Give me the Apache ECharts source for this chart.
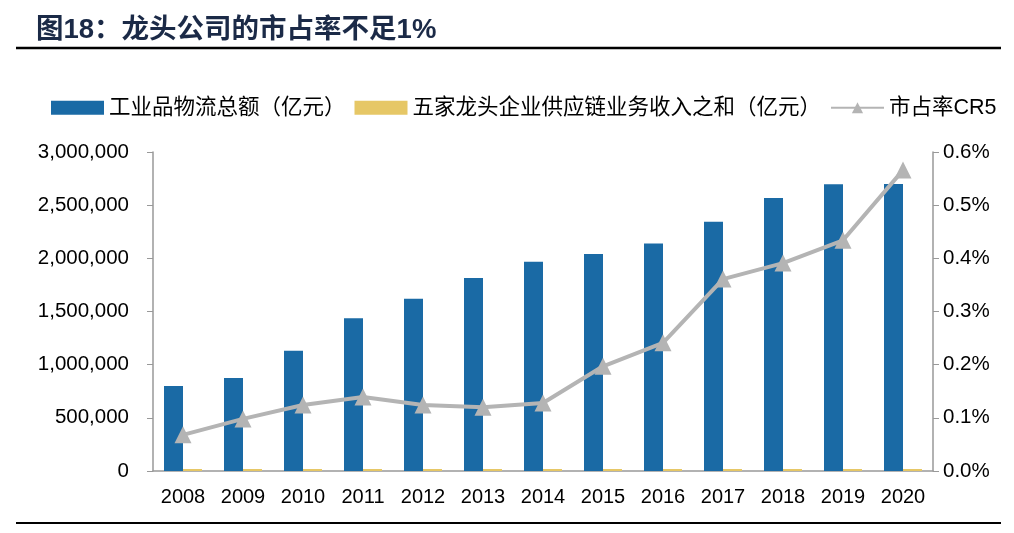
<!DOCTYPE html>
<html><head><meta charset="utf-8">
<script src="https://cdn.jsdelivr.net/npm/echarts@6/dist/echarts.min.js"></script>
<style>html,body{margin:0;padding:0;background:#fff}#c{width:1014px;height:533px}</style>
</head><body><div id="c"></div>
<script>
const years = ['2008','2009','2010','2011','2012','2013','2014','2015','2016','2017','2018','2019','2020'];
const totalLogistics = [799000,874000,1131000,1436000,1620000,1815000,1969000,2040000,2140000,2345000,2568000,2696000,2699000];
const top5Revenue = [543,857,1402,1996,2009,2178,2520,4019,5157,8465,10041,11700,15276];
const cr5 = [0.068,0.098,0.124,0.139,0.124,0.120,0.128,0.197,0.241,0.361,0.391,0.434,0.566];
const leftTicks = {min:0,max:3000000,interval:500000};
const rightTicks = {min:0,max:0.6,interval:0.1};

const chart = echarts.init(document.getElementById('c'));
const font = 'Liberation Sans, Arial, Noto Sans CJK SC, sans-serif';
chart.setOption({
  animation:false,
  title:{text:'图18：龙头公司的市占率不足1%',left:31,top:12,textStyle:{fontSize:27.5,fontWeight:'bold',color:'#1b2a47',fontFamily:font}},
  graphic:[
    {type:'line',shape:{x1:16,y1:48,x2:1001,y2:48},style:{stroke:'#000',lineWidth:2.5}},
    {type:'line',shape:{x1:16,y1:523,x2:1001,y2:523},style:{stroke:'#000',lineWidth:2}}
  ],
  legend:{left:46,top:92,width:1200,itemWidth:53,itemHeight:14,itemGap:9,
    textStyle:{fontSize:21.5,color:'#000',fontFamily:font},
    data:[{name:'工业品物流总额（亿元）',icon:'rect'},{name:'五家龙头企业供应链业务收入之和（亿元）',icon:'rect'},'市占率CR5']},
  grid:{left:153,right:81,top:152,bottom:62},
  xAxis:{type:'category',data:years,
    axisLine:{lineStyle:{color:'#999',width:1.5}},axisTick:{show:false},
    axisLabel:{fontSize:20,color:'#000',margin:16,fontFamily:font}},
  yAxis:[
    {type:'value',min:leftTicks.min,max:leftTicks.max,interval:leftTicks.interval,
     splitLine:{show:false},axisLine:{show:true,lineStyle:{color:'#999',width:1.5}},
     axisTick:{show:true,length:6,lineStyle:{color:'#999'}},
     axisLabel:{fontSize:20.5,color:'#000',margin:24,fontFamily:font,formatter:v=>v.toLocaleString('en-US')}},
    {type:'value',min:rightTicks.min,max:rightTicks.max,interval:rightTicks.interval,
     splitLine:{show:false},axisLine:{show:true,lineStyle:{color:'#999',width:1.5}},
     axisTick:{show:true,length:6,lineStyle:{color:'#999'}},
     axisLabel:{fontSize:20.5,color:'#000',margin:10,fontFamily:font,formatter:v=>v.toFixed(1)+'%'}}
  ],
  series:[
    {name:'工业品物流总额（亿元）',type:'bar',data:totalLogistics,barWidth:19,barGap:'0%',
     itemStyle:{color:'#1a6aa5'}},
    {name:'五家龙头企业供应链业务收入之和（亿元）',type:'bar',data:top5Revenue,barWidth:19,
     barMinHeight:2,itemStyle:{color:'#e6c766'}},
    {name:'市占率CR5',type:'line',yAxisIndex:1,data:cr5,symbol:'triangle',symbolSize:17,
     lineStyle:{color:'#b4b4b4',width:4},itemStyle:{color:'#b4b4b4'}}
  ]
});
</script></body></html>
